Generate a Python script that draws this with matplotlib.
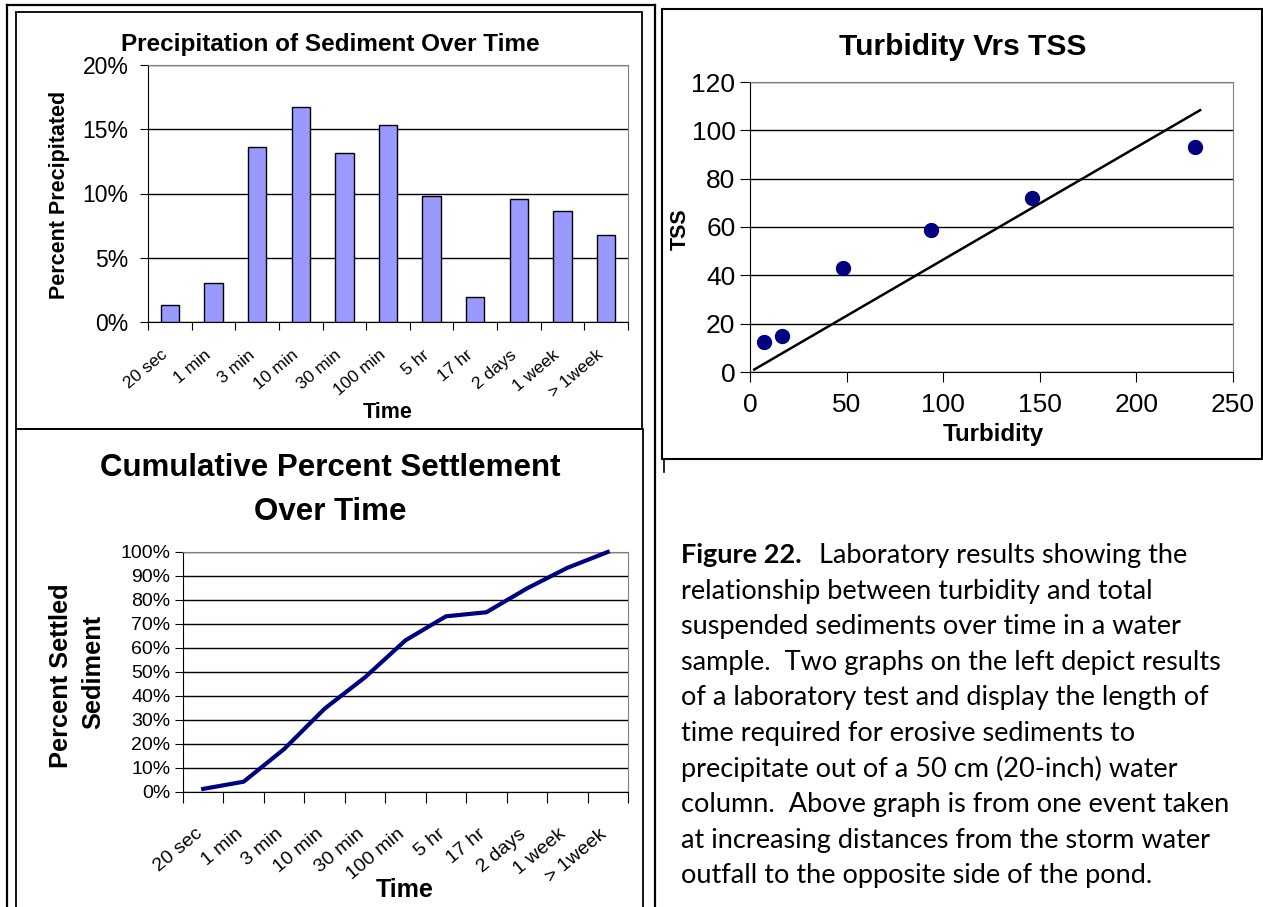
import numpy as np
import matplotlib.pyplot as plt
from matplotlib.patches import Rectangle
from matplotlib.ticker import PercentFormatter

# bar chart: share of sediment precipitated in each interval (%)
times_bar = ["20 sec", "1 min", "3 min", "10 min", "30 min", "100 min",
             "5 hr", "17 hr", "2 days", "1 week", "> 1week"]
precip = [1.3, 3.05, 13.6, 16.75, 13.15, 15.35, 9.8, 1.95, 9.6, 8.6, 6.75]

# line chart: cumulative settled sediment (%)
times_cum = ["20 sec", "1 min", "3 min", "10 min", "30 min", "100 min",
             "5 hr", "17 hr", "2 days", "1 week", "> 1week"]
settled = [1.3, 4.3, 17.9, 34.7, 47.8, 63.2, 73.2, 74.9, 84.8, 93.4, 100]

# scatter: turbidity vs TSS
turbidity = np.array([7.2, 16.8, 48.2, 93.6, 145.8, 230.2])
tss = np.array([12.4, 14.9, 43.2, 58.6, 72.0, 93.1])
trend_x = np.array([2.2, 233.0])

caption = [
    "relationship between turbidity and total",
    "suspended sediments over time in a water",
    "sample.  Two graphs on the left depict results",
    "of a laboratory test and display the length of",
    "time required for erosive sediments to",
    "precipitate out of a 50 cm (20-inch) water",
    "column.  Above graph is from one event taken",
    "at increasing distances from the storm water",
    "outfall to the opposite side of the pond.",
]

W, H = 1263, 907
plt.rcParams["font.family"] = "Liberation Sans"
fig = plt.figure(figsize=(W / 100, H / 100), dpi=100)


def box(l, t, r, b):
    return [l / W, 1 - b / H, (r - l) / W, (b - t) / H]


def frame(ax):
    for s in ["top", "right"]:
        ax.spines[s].set_color("#808080")
    for s in ["left", "bottom"]:
        ax.spines[s].set_color("black")
    ax.set_axisbelow(True)


# background layer in pixel coordinates: page borders and captions
bg = fig.add_axes([0, 0, 1, 1])
bg.set_xlim(0, W)
bg.set_ylim(H, 0)
bg.axis("off")
bg.plot([7, 7], [5, H + 5], color="black", lw=1.6)
bg.plot([7, 655], [5, 5], color="black", lw=1.6)
bg.plot([655, 655], [5, H + 5], color="black", lw=1.6)
bg.plot([664, 664], [459, 472], color="black", lw=1.2)
bg.add_patch(Rectangle((16, 12), 626, 417, fill=False, ec="black", lw=1.3))
bg.add_patch(Rectangle((16, 429), 627, 490, fill=False, ec="black", lw=1.3))
bg.add_patch(Rectangle((662, 9), 600, 450, fill=False, ec="black", lw=1.5))

bg.text(330, 44, "Precipitation of Sediment Over Time", ha="center", va="center",
        fontsize=17.5, fontweight="bold")
bg.text(60, 195, "Percent Precipitated", ha="center", va="center", rotation=90,
        fontsize=15.5, fontweight="bold")
bg.text(388, 412, "Time", ha="center", va="center", fontsize=15.5, fontweight="bold")

bg.text(330, 468, "Cumulative Percent Settlement", ha="center", va="center",
        fontsize=22.5, fontweight="bold")
bg.text(330, 512, "Over Time", ha="center", va="center", fontsize=22.5,
        fontweight="bold")
bg.text(61, 676, "Percent Settled", ha="center", va="center", rotation=90,
        fontsize=18.3, fontweight="bold")
bg.text(93, 672, "Sediment", ha="center", va="center", rotation=90,
        fontsize=18.3, fontweight="bold")
bg.text(405, 890, "Time", ha="center", va="center", fontsize=18, fontweight="bold")

bg.text(963, 47, "Turbidity Vrs TSS", ha="center", va="center", fontsize=21.5,
        fontweight="bold")
bg.text(680, 229, "TSS", ha="center", va="center", rotation=90, fontsize=15.5,
        fontweight="bold")
bg.text(993, 435, "Turbidity", ha="center", va="center", fontsize=17.4,
        fontweight="bold")

bg.text(681, 563, "Figure 22.", ha="left", va="baseline", fontsize=19.5,
        fontweight="bold", family="Lato")
bg.text(819, 563, "Laboratory results showing the", ha="left", va="baseline",
        fontsize=19.5, family="Lato")
for i, line in enumerate(caption):
    bg.text(681, 563 + 35.6 * (i + 1), line, ha="left", va="baseline",
            fontsize=19.5, family="Lato")

# bar chart
ax1 = fig.add_axes(box(148, 65, 628, 322))
xb = np.arange(len(times_bar))
ax1.bar(xb, precip, width=0.42, color="#9999ff", edgecolor="black", linewidth=1, zorder=3)
ax1.set_xlim(-0.5, len(times_bar) - 0.5)
ax1.set_ylim(0, 20)
ax1.set_yticks([0, 5, 10, 15, 20])
ax1.yaxis.set_major_formatter(PercentFormatter(decimals=0))
ax1.grid(axis="y", color="black", lw=1)
ax1.set_xticks(np.arange(-0.5, len(times_bar), 1))
ax1.set_xticklabels([])
ax1.set_xticks(xb - 0.22, minor=True)
ax1.set_xticklabels(times_bar, minor=True, rotation=40, ha="right",
                    rotation_mode="anchor", fontsize=12.5)
ax1.tick_params(axis="x", which="minor", length=0, pad=18)
ax1.tick_params(axis="x", which="major", direction="out", length=6)
ax1.tick_params(axis="y", direction="out", length=6, labelsize=16.5, pad=8)
frame(ax1)

# cumulative line
ax2 = fig.add_axes(box(183, 552, 628, 792))
xc = np.arange(len(times_cum))
ax2.plot(xc, settled, color="#000080", lw=3, clip_on=False, zorder=3)
ax2.set_xlim(-0.5, len(times_cum) - 0.5)
ax2.set_ylim(0, 100)
ax2.set_yticks(np.arange(0, 101, 10))
ax2.yaxis.set_major_formatter(PercentFormatter(decimals=0))
ax2.grid(axis="y", color="black", lw=1)
ax2.set_xticks(np.arange(-0.5, len(times_cum), 1))
ax2.set_xticklabels([])
ax2.set_xticks(xc - 0.22, minor=True)
ax2.set_xticklabels(times_cum, minor=True, rotation=40, ha="right",
                    rotation_mode="anchor", fontsize=14)
ax2.tick_params(axis="x", which="minor", length=0, pad=24)
ax2.tick_params(axis="x", which="major", direction="out", length=8)
ax2.tick_params(axis="y", direction="out", length=6, labelsize=14, pad=3)
frame(ax2)

# scatter with trendline through origin
ax3 = fig.add_axes(box(750, 82, 1233, 372))
slope = np.sum(turbidity * tss) / np.sum(turbidity ** 2)
ax3.plot(trend_x, slope * trend_x, color="black", lw=1.8, zorder=2)
ax3.scatter(turbidity, tss, s=100, color="#000080", zorder=3)
ax3.set_xlim(0, 250)
ax3.set_ylim(0, 120)
ax3.set_xticks(np.arange(0, 251, 50))
ax3.set_yticks(np.arange(0, 121, 20))
ax3.grid(axis="y", color="black", lw=1)
ax3.tick_params(direction="out", length=7, labelsize=19)
ax3.tick_params(axis="x", pad=8)
frame(ax3)

fig.savefig("out.png", dpi=100)
